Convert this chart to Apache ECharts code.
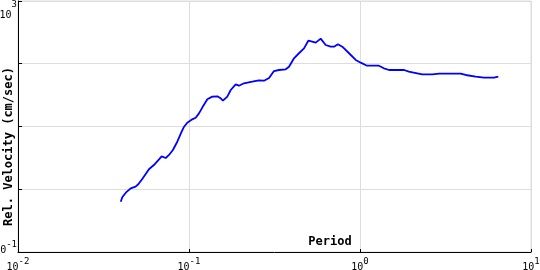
<!DOCTYPE html>
<html>
<head>
<meta charset="utf-8">
<script src="https://cdn.jsdelivr.net/npm/echarts@6/dist/echarts.min.js"></script>
<style>html,body{margin:0;padding:0;background:#fff}#c{width:540px;height:270px}</style>
</head>
<body>
<div id="c"></div>
<script>
const periods = [0.0399,0.0407,0.0427,0.0456,0.0487,0.0505,0.0533,0.0583,0.0623,0.0668,0.0692,0.0731,0.0764,0.0805,0.0854,0.0906,0.0936,0.0977,0.1045,0.1094,0.1144,0.1198,0.128,0.1368,0.1464,0.1531,0.158,0.1675,0.1754,0.1875,0.196,0.2097,0.2344,0.2564,0.2746,0.2939,0.314,0.3357,0.3677,0.3846,0.411,0.4395,0.4705,0.4985,0.526,0.551,0.589,0.630,0.674,0.705,0.743,0.788,0.863,0.944,1.01,1.10,1.29,1.38,1.48,1.81,1.93,2.16,2.31,2.65,2.90,3.88,4.15,4.75,5.31,6.08,6.44];
const velocities = [0.634,0.745,0.881,1.035,1.10,1.20,1.46,2.08,2.43,3.00,3.35,3.15,3.52,4.22,5.72,8.26,9.93,11.5,13.0,13.8,16.2,20.2,27.1,29.9,30.3,28.1,25.8,29.9,38.2,47.0,44.7,48.8,51.8,54.5,53.7,59.3,76.6,79.5,81.6,89.7,122,147,176,233,225,217,251,199,187,187,204,187,147,115,104,93.1,93.1,84.6,79.5,79.5,74.7,70.4,67.9,67.9,69.4,69.4,66.2,62.2,59.9,59.9,62.2];
const xTickLabels = {0.01:'-2', 0.1:'-1', 1:'0', 10:'1'};
const yTickLabels = {0.1:'-1', 1000:'3'};
const xName = 'Period';
const yName = 'Rel. Velocity (cm/sec)';

const chart = echarts.init(document.getElementById('c'), null, {renderer:'canvas'});
const mono = 'DejaVu Sans Mono';
const richLab = {
  b:{fontFamily:mono,fontSize:10,lineHeight:4,color:'#000'},
  bt:{fontFamily:mono,fontSize:10,lineHeight:14,color:'#000'},
  s:{fontFamily:mono,fontSize:9,lineHeight:7,color:'#000'},
  p10:{fontFamily:mono,fontSize:9,lineHeight:7,width:12},
  g1:{fontFamily:mono,fontSize:9,lineHeight:4,width:5.4},
  g2:{fontFamily:mono,fontSize:9,lineHeight:4,width:10.8}
};
function expFmt(map, topVal){
  return function(v){
    for (const k in map){
      if (Math.abs(v/Number(k)-1) < 1e-6){
        const e = map[k];
        const bs = (topVal && Math.abs(v/topVal-1) < 1e-6) ? 'bt' : 'b';
        return '{p10| }{s|' + e + '}\n{' + bs + '|10}{g' + e.length + '| }';
      }
    }
    return '';
  };
}
chart.setOption({
  animation:false,
  grid:{left:18,right:9,top:1,bottom:18,containLabel:false,outerBoundsMode:'none',show:true,borderColor:'#dddddd',borderWidth:1},
  xAxis:{
    type:'log', logBase:10, min:0.01, max:10,
    axisLine:{lineStyle:{color:'#000',width:1}},
    axisTick:{inside:true,length:3,lineStyle:{color:'#000'}},
    minorTick:{show:false},
    splitLine:{show:true,lineStyle:{color:'#dddddd',width:1}},
    axisLabel:{formatter:expFmt(xTickLabels),rich:richLab,margin:6,showMinLabel:true,showMaxLabel:true,hideOverlap:false},
    name:xName, nameLocation:'middle', nameGap:-16, nameMoveOverlap:false,
    nameTextStyle:{fontFamily:mono,fontWeight:'bold',fontSize:12,color:'#000',padding:[0,0,0,111]}
  },
  yAxis:{
    type:'log', logBase:10, min:0.1, max:1000,
    axisLine:{show:true,lineStyle:{color:'#000',width:1}},
    axisTick:{show:true,inside:true,length:4,lineStyle:{color:'#000'}},
    splitLine:{show:true,lineStyle:{color:'#dddddd',width:1}},
    axisLabel:{formatter:expFmt(yTickLabels, 1000),rich:richLab,margin:1,showMinLabel:true,showMaxLabel:true,
      verticalAlignMaxLabel:'top',verticalAlignMinLabel:'bottom'},
    name:yName, nameLocation:'middle', nameGap:3, nameRotate:90, nameMoveOverlap:false,
    nameTextStyle:{fontFamily:mono,fontWeight:'bold',fontSize:12,color:'#000',padding:[0,40,0,0]}
  },
  series:[{
    type:'line', data:periods.map((p,i)=>[p,velocities[i]]),
    showSymbol:false, symbol:'none',
    lineStyle:{color:'#0000ff',width:1.8}
  }]
});
</script>
</body>
</html>
